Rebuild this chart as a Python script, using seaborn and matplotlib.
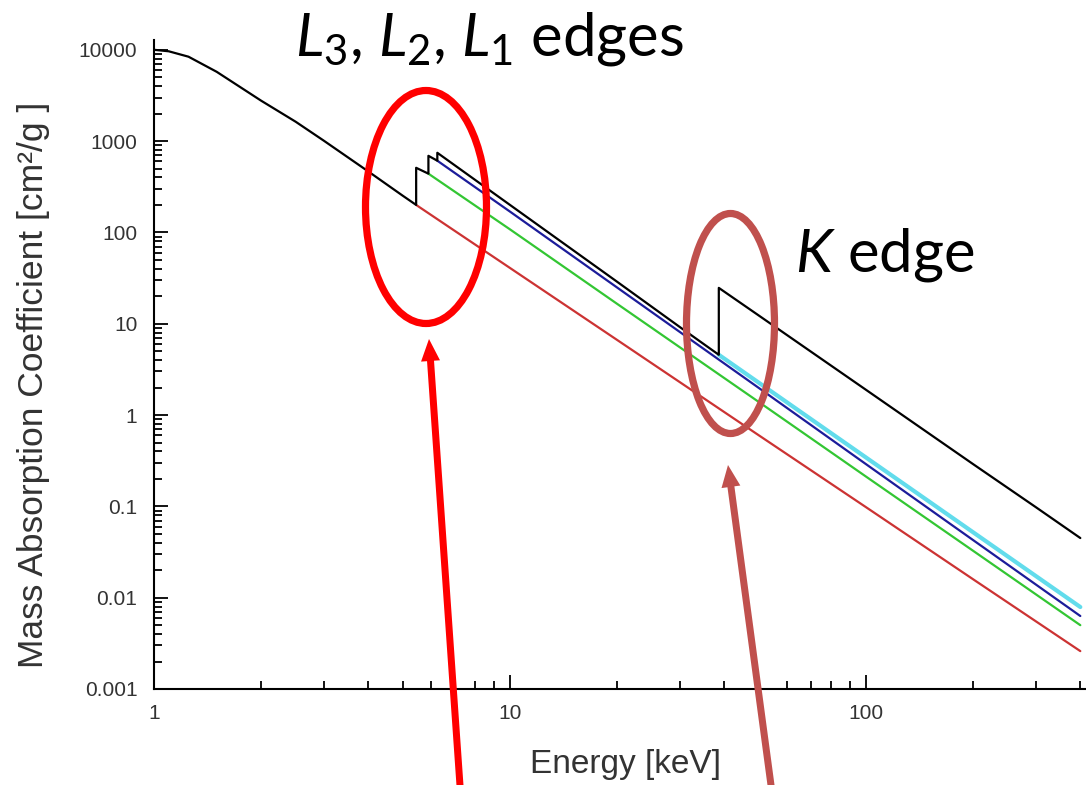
import matplotlib
matplotlib.use("Agg")
import matplotlib.pyplot as plt
from matplotlib import patches, ticker
import numpy as np
import pandas as pd
import seaborn as sns

# Photon energy [keV] and mass absorption coefficient [cm^2/g]
energy_total = [1.0, 1.1, 1.25, 1.5, 2.0, 2.5, 3.0, 4.0, 5.0, 5.45, 5.45, 5.9, 5.9,
                6.25, 6.25, 10, 20, 30, 38.6, 38.6, 50, 100, 200, 300, 400]
mu_total = [10000, 9630, 8400, 5740, 2770, 1630, 1010, 465, 252, 200, 510, 440, 690,
            610, 745, 200, 28.8, 9.2, 4.57, 24.7, 12.3, 1.89, 0.29, 0.098, 0.045]

energy_red = [5.45, 10, 20, 50, 100, 200, 400]
mu_red = [200, 40.8, 6.64, 0.60, 0.098, 0.0159, 0.0026]

energy_green = [5.9, 10, 20, 50, 100, 200, 400]
mu_green = [440, 108, 16.5, 1.39, 0.212, 0.0326, 0.0050]

energy_blue = [6.25, 10, 20, 50, 100, 200, 400]
mu_blue = [610, 169, 24.9, 1.98, 0.29, 0.0427, 0.0063]

energy_cyan = [38.6, 50, 100, 200, 400]
mu_cyan = [4.57, 2.26, 0.343, 0.052, 0.0079]

y_ticks = [0.001, 0.01, 0.1, 1, 10, 100, 1000, 10000]
y_tick_labels = ["0.001", "0.01", "0.1", "1", "10", "100", "1000", "10000"]
x_ticks = [1, 10, 100]
x_tick_labels = ["1", "10", "100"]

sns.set_theme(style="ticks")
plt.rcParams["font.family"] = ["Liberation Sans", "DejaVu Sans"]
plt.rcParams["mathtext.fontset"] = "custom"
plt.rcParams["mathtext.rm"] = "Lato"
plt.rcParams["mathtext.it"] = "Lato:italic"

W, H = 1086, 785
fig = plt.figure(figsize=(W / 100, H / 100), dpi=100)
fig.patch.set_facecolor("white")

ax = fig.add_axes([154 / W, 96 / H, 932 / W, 649 / H])
ax.set_facecolor("white")

series = [
    ("red", energy_red, mu_red),
    ("green", energy_green, mu_green),
    ("cyan", energy_cyan, mu_cyan),
    ("blue", energy_blue, mu_blue),
    ("total", energy_total, mu_total),
]
frames = []
for name, e, m in series:
    frames.append(pd.DataFrame({"energy": e, "mu": m, "series": name,
                                "order": np.arange(len(e))}))
df = pd.concat(frames, ignore_index=True)

styles = {
    "red": ("#cc3333", 1.6),
    "green": ("#33c633", 1.6),
    "cyan": ("#62dcec", 3.0),
    "blue": ("#1c1c9a", 1.6),
    "total": ("#000000", 1.6),
}
for name, _, _ in series:
    color, lw = styles[name]
    sns.lineplot(data=df[df["series"] == name], x="energy", y="mu", sort=False,
                 estimator=None, color=color, linewidth=lw, ax=ax, legend=False)

ax.set_xscale("log")
ax.set_yscale("log")
ax.set_xlim(1, 415)
ax.set_ylim(0.001, 12800)

ax.set_xticks(x_ticks)
ax.set_xticklabels(x_tick_labels)
ax.set_yticks(y_ticks)
ax.set_yticklabels(y_tick_labels)
ax.xaxis.set_minor_locator(ticker.LogLocator(base=10, subs=np.arange(2, 10)))
ax.yaxis.set_minor_locator(ticker.LogLocator(base=10, subs=np.arange(2, 10)))
ax.xaxis.set_minor_formatter(ticker.NullFormatter())
ax.yaxis.set_minor_formatter(ticker.NullFormatter())

ax.tick_params(which="major", direction="in", length=10, width=1.3,
               labelsize=15, labelcolor="#333333", color="black")
ax.tick_params(which="minor", direction="in", length=6, width=1.3, color="black")
ax.tick_params(axis="y", which="major", pad=12)
ax.tick_params(axis="x", which="major", pad=11)

for side in ["top", "right"]:
    ax.spines[side].set_visible(False)
for side in ["left", "bottom"]:
    ax.spines[side].set_linewidth(1.5)
    ax.spines[side].set_color("black")

ax.set_xlabel("Energy [keV]", fontsize=24, color="#333333")
ax.xaxis.set_label_coords(0.5 + 6 / 932, -60 / 649)
ax.set_ylabel("Mass Absorption Coefficient [cm²/g ]", fontsize=25.5,
              color="#333333")
ax.yaxis.set_label_coords(-104 / 932, 0.5 - 20 / 649)

# Overlay in pixel units for the callouts
ov = fig.add_axes([0, 0, 1, 1])
ov.set_xlim(0, W)
ov.set_ylim(H, 0)
ov.axis("off")
ov.patch.set_alpha(0)

red = "#ff0000"
brown = "#c0504d"

ov.add_patch(patches.Ellipse((426, 207), 121, 233, fill=False,
                             edgecolor=red, linewidth=5.2))
ov.add_patch(patches.Ellipse((730.5, 323.5), 88, 220, fill=False,
                             edgecolor=brown, linewidth=5.2))

ov.add_patch(patches.FancyArrow(461, 800, 429 - 461, 339 - 800, width=7,
                                head_width=19, head_length=22,
                                length_includes_head=True, color=red, lw=0))
ov.add_patch(patches.FancyArrow(773, 800, 728 - 773, 465 - 800, width=7,
                                head_width=19, head_length=22,
                                length_includes_head=True, color=brown, lw=0))

ov.text(295, 55, r"$L_3$, $L_2$, $L_1$ edges", fontsize=43, family="Lato",
        color="black", ha="left", va="baseline")
ov.text(795, 272, r"$K$ edge", fontsize=43, family="Lato",
        color="black", ha="left", va="baseline")

fig.savefig("out.png", dpi=100, facecolor="white")
